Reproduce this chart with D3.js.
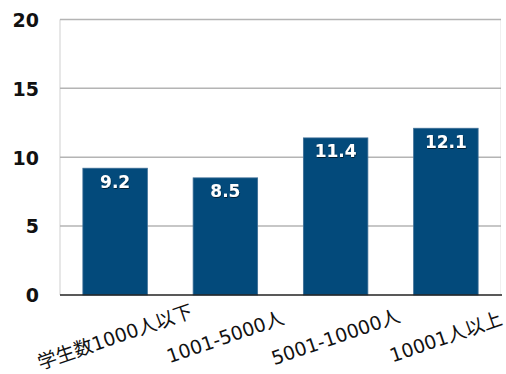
<!DOCTYPE html>
<html><head><meta charset="utf-8">
<script src="https://cdn.jsdelivr.net/npm/d3@7"></script>
<style>body{margin:0;background:#fff}</style>
</head><body>
<svg id="c" width="506" height="374"></svg>
<script>
const categories = ["学生数1000人以下", "1001-5000人", "5001-10000人", "10001人以上"];
const values = [9.2, 8.5, 11.4, 12.1];
const yTicks = [0, 5, 10, 15, 20];

const W = 506, H = 374;
const m = {left: 60, right: 5, top: 19.4, bottom: 79};
const svg = d3.select("#c");
const x = d3.scaleBand().domain(categories).range([m.left, W - m.right]).paddingInner(0.415).paddingOuter(0.2075);
const y = d3.scaleLinear().domain([0, 20]).range([H - m.bottom, m.top]);

const defs = svg.append("defs");
const f = defs.append("filter").attr("id", "sh").attr("x", "-20%").attr("y", "-20%").attr("width", "140%").attr("height", "140%");
f.append("feDropShadow").attr("dx", 0.5).attr("dy", 1).attr("stdDeviation", 0.6).attr("flood-color", "#000").attr("flood-opacity", 0.6);

// left and right light borders
svg.append("line").attr("x1", m.left).attr("x2", m.left).attr("y1", y(20)).attr("y2", y(0)).attr("stroke", "#cfcfcf").attr("stroke-width", 1);
svg.append("line").attr("x1", W - m.right - 0.5).attr("x2", W - m.right - 0.5).attr("y1", y(20)).attr("y2", y(0)).attr("stroke", "#f0f0f0").attr("stroke-width", 1);

// gridlines
const yAxis = d3.axisLeft(y).tickValues(yTicks).tickSize(0).tickPadding(21);
const ga = svg.append("g").attr("transform", `translate(${m.left},0)`).call(yAxis);
ga.select(".domain").remove();
ga.selectAll("text").attr("font-family", "DejaVu Sans").attr("font-size", 19).attr("font-weight", "bold").attr("fill", "#111").attr("dy", "0.36em");
svg.append("g").selectAll("line").data(yTicks.filter(d => d > 0)).join("line")
  .attr("x1", m.left).attr("x2", W - m.right).attr("y1", d => y(d)).attr("y2", d => y(d))
  .attr("stroke", "#b4b4b4").attr("stroke-width", 1.5);

// bars
svg.append("g").selectAll("rect").data(values).join("rect")
  .attr("x", (d, i) => x(categories[i])).attr("y", d => y(d))
  .attr("width", x.bandwidth()).attr("height", d => y(0) - y(d))
  .attr("fill", "#034a7b").attr("stroke", "#3d6e96").attr("stroke-width", 0.8);

// value labels
svg.append("g").selectAll("text").data(values).join("text")
  .attr("x", (d, i) => x(categories[i]) + x.bandwidth() / 2).attr("y", d => y(d) + 19.5)
  .attr("text-anchor", "middle").attr("font-family", "DejaVu Sans").attr("font-weight", "bold")
  .attr("font-size", 17).attr("fill", "#fff").attr("filter", "url(#sh)")
  .text(d => d.toFixed(1));

// bottom axis line
svg.append("line").attr("x1", m.left).attr("x2", W - m.right + 1).attr("y1", y(0)).attr("y2", y(0)).attr("stroke", "#222").attr("stroke-width", 1.6);

// x labels
const xAxis = d3.axisBottom(x).tickSize(0).tickFormat(d => d);
const gx = svg.append("g").attr("transform", `translate(0,${y(0)})`).call(xAxis);
gx.select(".domain").remove();
gx.selectAll("text")
  .attr("font-family", "DejaVu Sans, Noto Sans CJK JP").attr("font-size", 19).attr("fill", "#111")
  .attr("text-anchor", "middle").attr("dy", "0.35em").attr("y", 0)
  .attr("transform", "translate(0,42) rotate(-19)");
</script>
</body></html>
